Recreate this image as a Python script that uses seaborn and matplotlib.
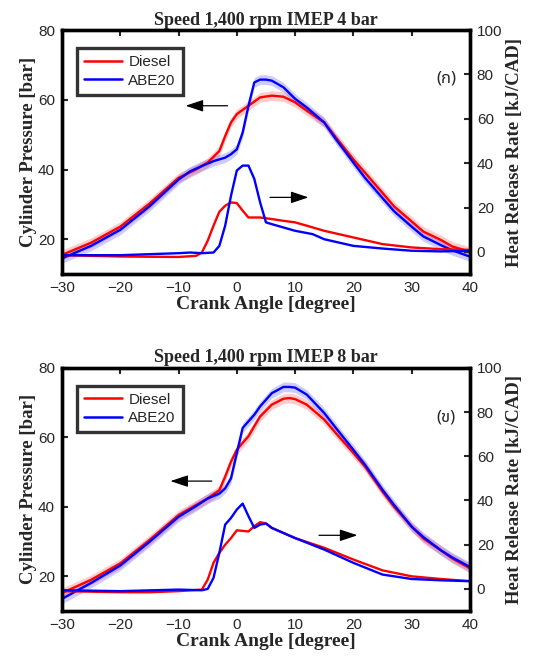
import numpy as np
import matplotlib
matplotlib.use("Agg")
import matplotlib.pyplot as plt
import seaborn as sns

# Top panel (IMEP 4 bar) - cylinder pressure [bar]
ca_p4 = [-30, -25, -20, -15, -10, -7, -5, -3, -2, -1, 0, 2, 4, 6, 8, 10, 12, 15, 17, 20,
         22, 25, 27, 30, 32, 35, 37, 40]
p4_diesel = [15.5, 19.0, 23.6, 30.2, 37.6, 40.0, 42.0, 45.3, 49.6, 53.5, 55.9, 58.3, 60.7, 61.2,
             60.9, 59.3, 56.9, 53.5, 49.2, 42.9, 39.1, 33.3, 29.4, 25.1, 22.2, 19.8, 17.9, 16.4]
ca_p4b = [-30, -25, -20, -15, -10, -8, -6, -4, -2, -1, 0, 1, 2, 3, 4, 5, 6, 8, 10, 12, 15, 17,
          20, 22, 25, 27, 30, 32, 35, 37, 40]
p4_abe = [14.5, 18.1, 22.7, 29.4, 37.1, 39.5, 41.0, 42.4, 43.4, 44.4, 45.8, 50.6, 58.3, 65.0,
          65.8, 65.8, 65.5, 63.6, 60.3, 57.8, 53.5, 48.7, 42.0, 37.6, 31.8, 28.0, 23.6, 20.8,
          18.3, 16.8, 15.0]

# Top panel - heat release rate [kJ/CAD]
ca_h4 = [-30, -20, -10, -7, -6, -5, -4, -3, -2, -1, 0, 1, 2, 4, 6, 8, 10, 12, 15, 20, 25, 30, 35, 40]
h4_diesel = [-1.5, -2.1, -2.3, -1.8, -0.3, 5.0, 11.8, 18.1, 20.8, 22.3, 22.0, 18.6, 15.5, 15.5,
             14.8, 14.0, 13.3, 11.8, 9.5, 6.5, 3.5, 2.0, 1.2, 0.9]
ca_h4b = [-30, -20, -10, -8, -6, -4, -3, -2, -1, 0, 1, 2, 3, 4, 5, 6, 8, 10, 13, 15, 20, 25, 30, 35, 40]
h4_abe = [-1.5, -1.5, -0.6, -0.3, -0.6, -0.3, 2.7, 11.8, 25.3, 36.7, 38.9, 38.9, 32.9, 22.3,
          13.3, 12.5, 11.0, 9.5, 8.0, 5.7, 2.7, 1.5, 0.5, 0.2, 0.5]

# Bottom panel (IMEP 8 bar) - cylinder pressure [bar]
ca_p8 = [-30, -25, -20, -15, -10, -7, -5, -3, -2, -1, 0, 1, 2, 3, 4, 6, 8, 9, 10, 12, 15, 17,
         20, 22, 25, 27, 30, 32, 35, 37, 40]
p8_diesel = [15.2, 19.0, 23.7, 30.4, 37.6, 40.5, 42.4, 44.8, 48.7, 53.0, 56.4, 58.4, 60.3, 63.2,
             66.0, 69.4, 71.1, 71.3, 71.0, 69.4, 65.1, 61.2, 55.5, 51.6, 44.4, 40.0, 34.3, 30.9,
             27.5, 25.1, 22.3]
p8_abe = [13.5, 18.1, 23.1, 29.9, 37.1, 40.2, 42.4, 43.8, 45.3, 48.2, 55.5, 62.7, 64.6, 66.5,
          68.9, 72.7, 74.5, 74.5, 74.3, 72.3, 67.0, 62.7, 56.4, 52.1, 44.9, 40.5, 34.3, 31.3,
          27.5, 25.4, 22.7]

# Bottom panel - heat release rate [kJ/CAD]
ca_h8 = [-30, -20, -15, -10, -6, -5, -4, -3, -2, -1, 0, 2, 3, 4, 5, 6, 8, 10, 15, 20, 25, 30, 35, 40]
h8_diesel = [-1.0, -1.5, -1.5, -1.0, -0.3, 4.2, 11.8, 16.3, 20.0, 23.0, 26.5, 26.0, 28.4, 30.2,
             29.6, 27.6, 25.3, 23.0, 18.6, 13.3, 8.4, 5.7, 4.5, 3.5]
ca_h8b = [-30, -20, -10, -6, -5, -4, -3, -2, -1, 0, 1, 2, 3, 4, 5, 6, 8, 10, 15, 20, 25, 30, 35, 40]
h8_abe = [-0.6, -1.0, -0.3, -0.6, 0.0, 5.0, 16.3, 29.1, 32.1, 35.9, 38.6, 32.9, 27.6, 29.1,
          29.6, 27.6, 25.3, 23.0, 17.8, 11.8, 6.5, 4.5, 3.9, 3.5]

titles = ["Speed 1,400 rpm IMEP 4 bar", "Speed 1,400 rpm IMEP 8 bar"]
tags = ["(ก)", "(ข)"]

sns.set_style("white")
plt.rcParams['font.family'] = ['Liberation Sans', 'Noto Sans', 'DejaVu Sans']
serif = ['Liberation Serif', 'DejaVu Serif']

RED = '#ff0000'
BLUE = '#0000ff'

fig = plt.figure(figsize=(5.46, 6.7), dpi=100)
positions = [[0.1136, 0.591, 0.747, 0.364], [0.1136, 0.088, 0.747, 0.363]]

panels = [
    (ca_p4, p4_diesel, ca_p4b, p4_abe, ca_h4, h4_diesel, ca_h4b, h4_abe,
     ((-1.6, 58.3), (-8.8, 58.3)), ((5.7, 32.0), (12.3, 32.0)), 66.0),
    (ca_p8, p8_diesel, ca_p8, p8_abe, ca_h8, h8_diesel, ca_h8b, h8_abe,
     ((-4.3, 47.4), (-11.4, 47.4)), ((14.1, 31.8), (20.7, 31.8)), 65.6),
]

for i, (xd, pd_, xa, pa, xhd, hd, xha, ha, larrow, rarrow, tag_y) in enumerate(panels):
    ax = fig.add_axes(positions[i])
    ax2 = ax.twinx()

    # pressure with light bands
    ax.fill_between(xd, np.array(pd_) - 1.4, np.array(pd_) + 1.4, color=RED, alpha=0.2, lw=0)
    ax.fill_between(xa, np.array(pa) - 1.4, np.array(pa) + 1.4, color=BLUE, alpha=0.2, lw=0)
    sns.lineplot(x=xd, y=pd_, ax=ax, color=RED, linewidth=1.7, label='Diesel')
    sns.lineplot(x=xa, y=pa, ax=ax, color=BLUE, linewidth=1.7, label='ABE20')

    # heat release rate
    sns.lineplot(x=xhd, y=hd, ax=ax2, color=RED, linewidth=1.7, legend=False)
    sns.lineplot(x=xha, y=ha, ax=ax2, color=BLUE, linewidth=1.7, legend=False)

    ax.set_xlim(-30, 40)
    ax.set_ylim(10, 80)
    ax.set_yticks([20, 40, 60, 80])
    ax.set_xticks(range(-30, 41, 10))
    ax2.set_ylim(-10, 100)
    ax2.set_yticks(range(0, 101, 20))

    ax.tick_params(axis='both', direction='in', length=4, width=1.5, labelsize=11,
                   top=True, right=False, pad=5)
    ax2.tick_params(axis='y', direction='in', length=4, width=1.5, labelsize=11, pad=5)
    for a in (ax, ax2):
        for s in a.spines.values():
            s.set_linewidth(2.4)
            s.set_color('black')

    ax.set_title(titles[i], fontsize=13, fontweight='bold', family=serif, pad=4)
    ax.set_xlabel("Crank Angle [degree]", fontsize=14, fontweight='bold', family=serif, labelpad=1)
    ax.set_ylabel("Cylinder Pressure [bar]", fontsize=13.5, fontweight='bold', family=serif, labelpad=1)
    ax2.set_ylabel("Heat Release Rate [kJ/CAD]", fontsize=13.5, fontweight='bold', family=serif, labelpad=3)

    for (start, end) in (larrow, rarrow):
        ax.annotate('', xy=end, xytext=start,
                    arrowprops=dict(arrowstyle='-|>,head_length=0.9,head_width=0.3',
                                    mutation_scale=12, color='black', lw=0.9,
                                    shrinkA=0, shrinkB=0))

    ax.text(35.9, tag_y, tags[i], fontsize=12, ha='center', va='center',
            family=['Noto Sans Thai', 'Noto Sans', 'DejaVu Sans'])

    leg = ax.legend(loc='upper left', bbox_to_anchor=(0.037, 0.926), borderaxespad=0,
                    fontsize=11, frameon=True, fancybox=False, handlelength=2.5,
                    handletextpad=0.4, borderpad=0.45, labelspacing=0.3)
    leg.get_frame().set_edgecolor('black')
    leg.get_frame().set_linewidth(2.4)
    for line in leg.get_lines():
        line.set_linewidth(1.8)

fig.savefig("out.png", dpi=100)
